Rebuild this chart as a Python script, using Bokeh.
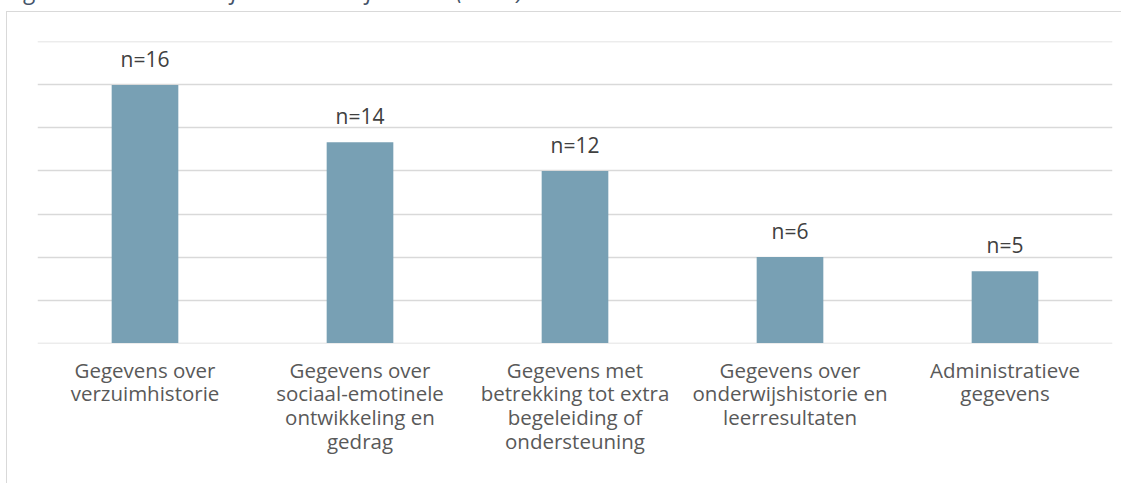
from bokeh.plotting import figure
from bokeh.models import Range1d, FactorRange, ColumnDataSource, Div, SingleIntervalTicker
from bokeh.layouts import column
from bokeh.core.properties import value
from bokeh.embed import file_html
from bokeh.resources import INLINE

title_text = "Figuur 4.12 Inhoudelijke onduidelijkheden (n=30)"
categories = [
    "Gegevens over\nverzuimhistorie",
    "Gegevens over\nsociaal-emotinele\nontwikkeling en\ngedrag",
    "Gegevens met\nbetrekking tot extra\nbegeleiding of\nondersteuning",
    "Gegevens over\nonderwijshistorie en\nleerresultaten",
    "Administratieve\ngegevens",
]
values = [60, 46.7, 40, 20, 16.7]
labels = ["n=16", "n=14", "n=12", "n=6", "n=5"]

FONT = "Open Sans"
TXT = "#595959"

src = ColumnDataSource(dict(cat=categories, val=values, lab=labels))

p = figure(
    x_range=FactorRange(*categories, range_padding=0),
    y_range=Range1d(-0.1, 70.1),
    width=1115, height=473,
    output_backend="svg", toolbar_location=None,
    min_border_left=30, min_border_right=10,
    min_border_top=29, min_border_bottom=142,
    outline_line_color=None,
    styles={"border-left": "1px solid #D9D9D9", "border-top": "1px solid #D9D9D9",
            "margin-left": "6px"},
)
p.vbar(x="cat", top="val", width=0.31, source=src, fill_color="#78A0B4", line_color=None)
p.text(x="cat", y="val", text="lab", source=src, text_align="center",
       text_baseline="alphabetic", y_offset=-26, text_font=value(FONT),
       text_font_size="21px", text_color="#404040")

p.yaxis.visible = False
p.yaxis.ticker = SingleIntervalTicker(interval=10)
p.ygrid.ticker = SingleIntervalTicker(interval=10)
p.ygrid.grid_line_color = "#D9D9D9"
p.ygrid.grid_line_width = 1.5
p.xgrid.grid_line_color = None
p.xaxis.axis_line_color = None
p.xaxis.major_tick_line_color = None
p.xaxis.minor_tick_line_color = None
p.xaxis.major_label_text_font = FONT
p.xaxis.major_label_text_font_size = "20.5px"
p.xaxis.major_label_text_line_height = 0.855
p.xaxis.major_label_text_color = TXT
p.xaxis.major_label_standoff = 6
p.xaxis.group_text_font_size = "0px"

title = Div(
    text=('<div style="position:relative;top:-29px;left:2px;white-space:nowrap;'
          'font-family:\'Open Sans\';font-size:24px;line-height:28px;font-style:italic;'
          'color:#44546A">' + title_text + '</div>'),
    width=700, height=1,
    styles={"overflow": "visible"},
)

layout = column(title, p)
open("out.html", "w").write(file_html(layout, INLINE))
